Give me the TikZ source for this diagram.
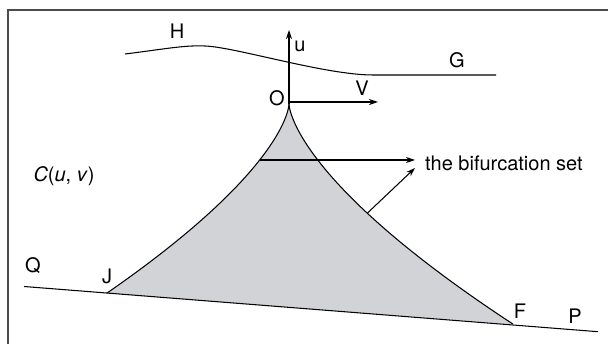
\documentclass[tikz,border=0pt]{standalone}
\usepackage{fontspec}
\setmainfont{TeX Gyre Heros}
\usetikzlibrary{arrows.meta}
\definecolor{bifgray}{RGB}{210,211,214}
\definecolor{framegray}{RGB}{75,75,75}
\begin{document}
\begin{tikzpicture}[x=1pt,y=-1pt,
  line/.style={line width=1.05pt,black},
  arr/.style={line width=1.05pt,-{Stealth[length=9pt,width=6pt]}},
  lab/.style={font=\fontsize{20}{22}\selectfont,inner sep=0pt},
]
\useasboundingbox (0,0) rectangle (608,344);
% frame
\draw[framegray,line width=1.7pt] (8.3,346) -- (8.3,9.8) -- (610,9.8);
% key points
\coordinate (O) at (289,104);
\coordinate (J) at (107.1,293);
\coordinate (F) at (512.8,324.5);
\coordinate (Qend) at (24,286.5);
\coordinate (Pend) at (598,331.7);
\coordinate (utip) at (289,30);
\coordinate (Vtip) at (378,102);
\coordinate (Vstart) at (289,102);
\coordinate (hs) at (125,54);
\coordinate (hp) at (205,46);
\coordinate (gf) at (373,75);
\coordinate (ge) at (496,75);
\coordinate (b1) at (259.7,160);
\coordinate (r1) at (367.5,213);
% shaded region
\fill[bifgray] plot[domain=0:189,samples=80,variable=\t] ({289-0.07*\t*sqrt(\t)},{104+\t})
  -- (F) -- plot[domain=220:0,samples=80,variable=\t] ({289+0.0686*\t*sqrt(\t)},{104+\t}) -- cycle;
\draw[line] plot[domain=0:189,samples=80,variable=\t] ({289-0.07*\t*sqrt(\t)},{104+\t});
\draw[line] plot[domain=0:220,samples=80,variable=\t] ({289+0.0686*\t*sqrt(\t)},{104+\t});
% line QP
\draw[line] (Qend) -- (Pend);
% H-G curve
\draw[line] (hs) .. controls (165,49) and (185,45) .. (hp)
  .. controls (235,47) and (325,75) .. (gf) -- (ge);
% axes
\draw[arr] (O) -- (utip);
\draw[arr] (Vstart) -- (Vtip);
% labels
\node[lab] (H) at (177,31) {H};
\node[lab] (G) at (457,60) {G};
\node[lab] (u) at (300,46) {u};
\node[lab] (Ol) at (277,98) {O};
\node[lab] (V) at (362,88) {V};
\node[lab] (C) at (64,176) {\textit{C}(\textit{u}, \textit{v})};
\node[lab] (Q) at (33,266) {Q};
\node[lab] (Jl) at (107,276) {J};
\node[lab] (Fl) at (520,311) {F};
\node[lab] (P) at (575,316) {P};
\node[lab,anchor=west] (bif) at (425,163) {the bifurcation set};
% bifurcation arrows
\draw[arr] (b1) -- (415,160);
\draw[arr] (r1) -- (415,168);
\end{tikzpicture}
\end{document}
